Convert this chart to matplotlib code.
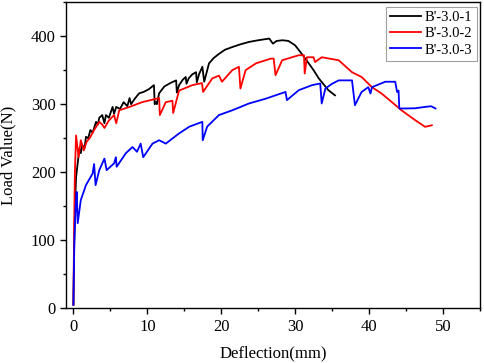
import matplotlib
matplotlib.use("Agg")
import matplotlib.pyplot as plt
from matplotlib.ticker import MultipleLocator

plt.rcParams['font.family'] = ['Liberation Serif', 'DejaVu Serif']

labels = ["B'-3.0-1", "B'-3.0-2", "B'-3.0-3"]
colors = ["black", "red", "blue"]

x1 = [0.0, 0.1, 0.25, 0.36, 0.6, 0.8, 1.0, 1.2, 1.5, 1.7, 2.0, 2.3, 2.6, 3.06, 3.3, 3.5, 3.9, 4.2, 4.4, 4.8, 5.3, 5.5, 5.8, 6.3, 6.8, 7.3, 7.6, 7.8, 8.3, 8.9, 9.5, 10.2, 10.9, 11.0, 11.2, 11.3, 11.6, 12.3, 13.1, 13.9, 14.0, 14.3, 14.8, 15.2, 15.3, 15.6, 16.1, 16.6, 16.7, 17.0, 17.45, 17.7, 18.35, 19.0, 19.7, 20.5, 21.5, 22.6, 23.75, 25.0, 26.5, 27.0, 27.5, 28.3, 29.1, 30.0, 30.9, 31.85, 32.5, 33.2, 34.5, 35.4]
y1 = [5, 90, 160, 193, 215, 235, 228, 240, 235, 252, 250, 262, 258, 274, 270, 280, 284, 272, 284, 280, 296, 286, 296, 293, 303, 297, 309, 300, 308, 316, 318, 322, 328, 300, 303, 300, 316, 326, 331, 335, 317, 328, 336, 340, 330, 338, 344, 347, 332, 344, 355, 333, 360, 368, 374, 380, 384, 388, 391.5, 394, 396.5, 389, 393, 394, 393, 386.6, 374, 360, 350, 338, 320.6, 313]

x2 = [0.0, 0.1, 0.2, 0.36, 0.7, 1.0, 1.4, 1.8, 2.2, 2.8, 3.5, 3.9, 4.2, 4.8, 5.5, 5.8, 6.2, 7.6, 9.3, 11.6, 11.7, 12.5, 13.4, 13.5, 14.3, 16.1, 17.4, 17.55, 18.8, 19.7, 20.1, 21.5, 22.4, 22.6, 23.3, 24.7, 26.7, 27.1, 27.35, 28.25, 30.5, 31.2, 31.3, 31.6, 32.5, 32.7, 33.6, 35.9, 37.7, 39.0, 40.4, 41.7, 43.1, 44.4, 46.25, 47.6, 48.5]
y2 = [5, 120, 200, 254, 222, 247, 232, 245, 250, 262, 274, 270, 265, 276, 284, 272, 291, 296, 303, 309, 284, 303, 305, 287, 320, 328, 331, 318, 338, 342, 333, 350, 355, 323, 350, 360, 367, 367, 342.6, 364.6, 372, 372, 345, 369, 369, 362, 369, 364.6, 347, 340, 325, 315.7, 303, 291, 276.5, 266.7, 269]

x3 = [0.0, 0.13, 0.3, 0.45, 0.58, 1.0, 1.7, 2.6, 2.8, 3.0, 3.5, 4.2, 4.5, 5.5, 5.75, 5.85, 7.1, 8.0, 8.6, 9.1, 9.45, 10.7, 11.6, 12.5, 14.3, 15.7, 17.45, 17.5, 18.1, 19.7, 21.5, 23.75, 26.0, 28.7, 28.9, 30.5, 32.3, 33.4, 33.6, 34.1, 35.0, 35.9, 37.7, 38.1, 39.0, 39.9, 40.2, 40.4, 42.2, 43.55, 43.8, 44.0, 44.1, 44.9, 46.25, 47.6, 48.4, 49.0]
y3 = [5, 100, 150, 171, 125, 159, 181, 198, 212, 181, 203, 220, 203, 213, 222, 208, 228, 237, 230, 242, 222, 242, 247, 242, 257, 267, 274, 247, 267, 284, 291, 301, 308, 318, 306, 320.6, 328, 330.4, 301, 323, 330, 335, 335, 298.5, 318, 325, 315.7, 325, 333, 333, 318, 320, 293.7, 293.7, 294, 296, 297, 293.7]

fig = plt.figure(figsize=(4.84, 3.63), dpi=100)
ax = fig.add_axes([0.1364, 0.151, 0.855, 0.843])

for xs, ys, c, lab in zip([x1, x2, x3], [y1, y2, y3], colors, labels):
    ax.plot(xs, ys, color=c, lw=1.3, label=lab)

ax.set_xlim(-1, 55)
ax.set_ylim(0, 450)
ax.xaxis.set_major_locator(MultipleLocator(10))
ax.xaxis.set_minor_locator(MultipleLocator(5))
ax.yaxis.set_major_locator(MultipleLocator(100))
ax.yaxis.set_minor_locator(MultipleLocator(50))
ax.tick_params(which='both', direction='out', top=False, right=False, labelsize=12, width=1)
ax.tick_params(which='major', length=4)
ax.tick_params(which='minor', length=2.5)
for s in ax.spines.values():
    s.set_linewidth(1.0)

ax.set_xlabel('Deflection(mm)', fontsize=12, labelpad=8)
ax.set_ylabel('Load Value(N)', fontsize=12, labelpad=10)

leg = ax.legend(loc='upper right', bbox_to_anchor=(476.7 / 484, 1 - 6.7 / 363),
                bbox_transform=fig.transFigure, borderaxespad=0,
                fontsize=10.5, frameon=True, fancybox=False,
                edgecolor='#888888', handlelength=2.1, borderpad=0.3,
                labelspacing=0.2, handletextpad=0.25)
leg.get_frame().set_linewidth(0.8)

fig.savefig('out.png', dpi=100)
